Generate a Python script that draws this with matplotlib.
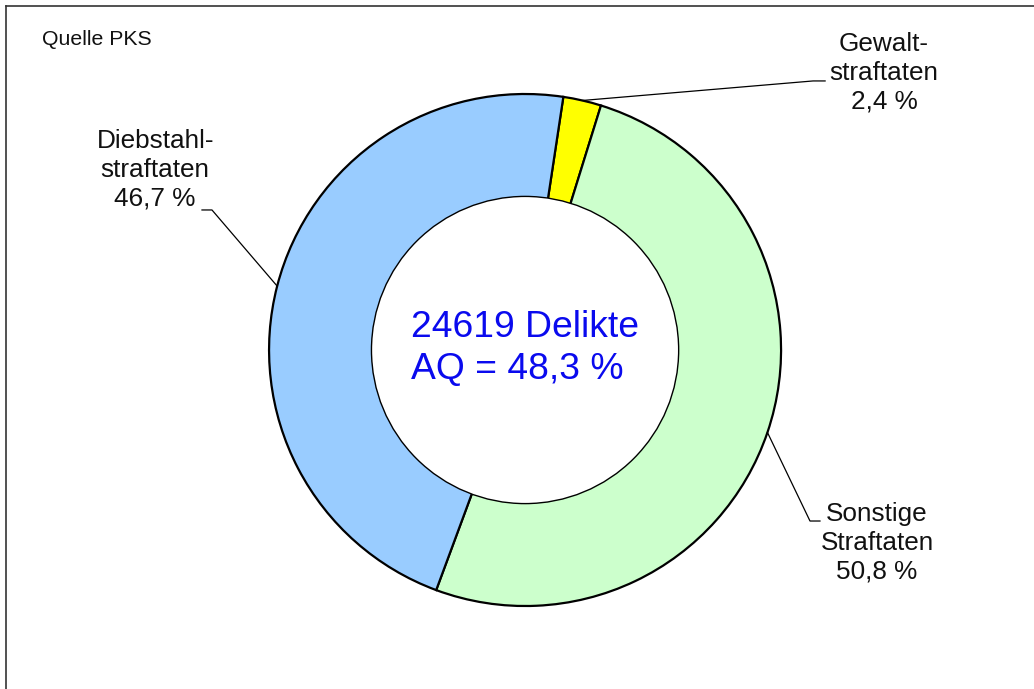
import matplotlib
matplotlib.use('Agg')
import matplotlib.pyplot as plt
from matplotlib.patches import Circle
from matplotlib.lines import Line2D
import numpy as np

plt.rcParams['font.family'] = ['Liberation Sans', 'DejaVu Sans']

# data (clockwise from the yellow slice)
categories = ['Gewalt-\nstraftaten', 'Sonstige\nStraftaten', 'Diebstahl-\nstraftaten']
shares = [2.4, 50.8, 46.7]
colors = ['#FFFF00', '#CCFFCC', '#99CCFF']
total_cases = 24619
aq = 48.3
source = 'Quelle PKS'

def fmt(v):
    return ('%.1f' % v).replace('.', ',')

fig = plt.figure(figsize=(10.34, 6.89), dpi=100)
ax = fig.add_axes([0, 0, 1, 1])

start = 81.4
wedges, _ = ax.pie(shares, colors=colors, startangle=start, counterclock=False,
                   radius=1.0, wedgeprops=dict(edgecolor='black', linewidth=1.6))
ax.add_patch(Circle((0, 0), 0.6, facecolor='white', edgecolor='black', linewidth=1.0, zorder=5))

# pie() sets its own limits, so set them afterwards
ax.set_xlim(-2.051, 1.988)
ax.set_ylim(-1.324, 1.367)
ax.set_aspect('equal')
ax.axis('off')

# label placement: text centre, elbow point, end of horizontal tick
label_pos = [(1.402, 1.082), (1.375, -0.754), (-1.445, 0.703)]
elbows = [((1.125, 1.051), (1.172, 1.051)),
          ((1.113, -0.668), (1.152, -0.668)),
          ((-1.223, 0.547), (-1.262, 0.547))]

for w, cat, val, (tx, ty), (e1, e2) in zip(wedges, categories, shares, label_pos, elbows):
    mid = np.deg2rad((w.theta1 + w.theta2) / 2)
    p0 = (np.cos(mid), np.sin(mid))
    ax.plot([p0[0], e1[0], e2[0]], [p0[1], e1[1], e2[1]], color='black', lw=0.9, zorder=6)
    ax.text(tx, ty, cat + '\n' + fmt(val) + ' %', ha='center', va='center',
            fontsize=18.8, color='#111111', linespacing=1.26, multialignment='center')

ax.text(-0.445, 0.006, '%d Delikte\nAQ = %s %%' % (total_cases, fmt(aq)),
        ha='left', va='center', fontsize=26.8, color='#0A0AEE', linespacing=1.24, zorder=7)

ax.text(-1.887, 1.191, source, ha='left', va='baseline', fontsize=15.3, color='#111111')

# frame (only left and top edges are inside the picture)
fig.add_artist(Line2D([6 / 1034, 6 / 1034], [0, 1 - 6 / 689], transform=fig.transFigure,
                      color='#333333', lw=1.2))
fig.add_artist(Line2D([6 / 1034, 1], [1 - 6 / 689, 1 - 6 / 689], transform=fig.transFigure,
                      color='#333333', lw=1.2))

fig.savefig('out.png', dpi=100)
